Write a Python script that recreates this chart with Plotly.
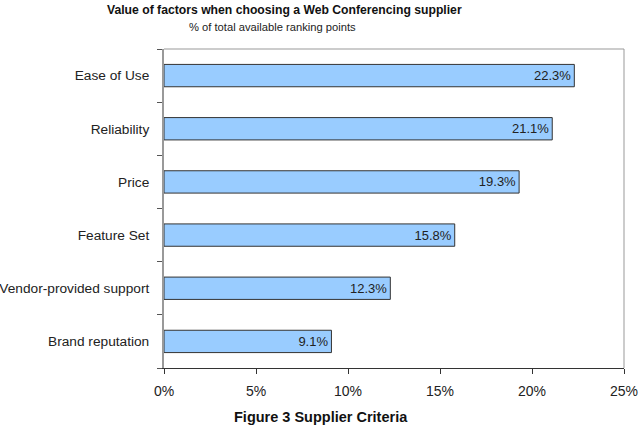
import plotly.graph_objects as go

categories = ["Brand reputation", "Vendor-provided support", "Feature Set", "Price", "Reliability", "Ease of Use"]
values = [9.1, 12.3, 15.8, 19.3, 21.1, 22.3]
x_ticks = [0, 5, 10, 15, 20, 25]
x_tick_labels = ["0%", "5%", "10%", "15%", "20%", "25%"]

font_family = "Liberation Sans, Arial, sans-serif"

fig = go.Figure(go.Bar(
    y=categories,
    x=values,
    orientation="h",
    marker=dict(color="#99CCFF", line=dict(color="#333333", width=1)),
    text=[f"{v:.1f}%" for v in values],
    textposition="inside",
    insidetextanchor="end",
    textfont=dict(family=font_family, size=13, color="#222222"),
    cliponaxis=False,
))

fig.update_layout(
    width=642, height=439,
    margin=dict(l=164, r=18, t=49, b=71),
    paper_bgcolor="white", plot_bgcolor="white",
    bargap=0.58,
    showlegend=False,
    font=dict(family=font_family, size=13, color="#222222"),
)

fig.update_xaxes(
    range=[0, 25], tickvals=x_ticks, ticktext=x_tick_labels,
    showgrid=False, zeroline=False, automargin=False,
    showline=True, linecolor="#333333", linewidth=1,
    ticks="outside", ticklen=5, tickcolor="#333333",
    tickfont=dict(size=14, family=font_family, color="#222222"),
    ticklabelstandoff=5,
)
fig.update_yaxes(
    showgrid=False, zeroline=False, automargin=False,
    showline=True, linecolor="#999999", linewidth=2,
    ticks="outside", ticklen=5, tickcolor="#555555", tickson="boundaries",
    tickfont=dict(size=13.7, family=font_family, color="#222222"),
    ticklabelstandoff=10,
)

# border top/right
fig.add_shape(type="line", xref="paper", yref="paper", x0=0, x1=1, y0=1, y1=1,
              line=dict(color="#999999", width=1))
fig.add_shape(type="line", xref="paper", yref="paper", x0=1, x1=1, y0=0, y1=1,
              line=dict(color="#999999", width=1))

fig.add_annotation(text="<b>Value of factors when choosing a Web Conferencing supplier</b>",
                   xref="paper", yref="paper", x=(284 - 164) / 460, y=1 + (49 - 10) / 319,
                   showarrow=False, font=dict(size=12.2, family=font_family, color="#111111"),
                   xanchor="center", yanchor="middle")
fig.add_annotation(text="% of total available ranking points",
                   xref="paper", yref="paper", x=(272 - 164) / 460, y=1 + (49 - 27) / 319,
                   showarrow=False, font=dict(size=11.2, family=font_family, color="#222222"),
                   xanchor="center", yanchor="middle")
fig.add_annotation(text="<b>Figure 3 Supplier Criteria</b>",
                   xref="paper", yref="paper", x=(321 - 164) / 460, y=-(417 - 368) / 319,
                   showarrow=False, font=dict(size=14.5, family=font_family, color="#111111"),
                   xanchor="center", yanchor="middle")

fig.write_html("out.html")
